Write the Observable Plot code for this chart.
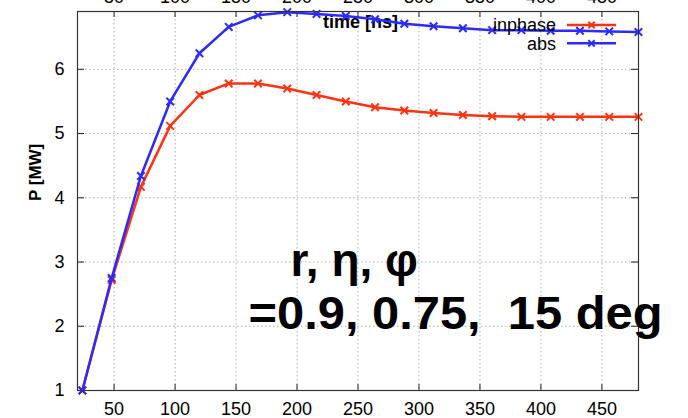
<!DOCTYPE html>
<html>
<head>
<meta charset="utf-8">
<script src="https://cdn.jsdelivr.net/npm/d3@7"></script>
<script src="https://cdn.jsdelivr.net/npm/@observablehq/plot@0.6"></script>
<style>
  html, body { margin: 0; padding: 0; background: #fff; }
  #chart { position: relative; width: 688px; height: 418px; overflow: hidden; }
</style>
</head>
<body>
<div id="chart"></div>
<script>
const time = [24, 48, 72, 96, 120, 144, 168, 192, 216, 240, 264, 288, 312, 336, 360, 384, 408, 432, 456, 480];
const inphase = [1.0, 2.72, 4.17, 5.12, 5.60, 5.78, 5.78, 5.70, 5.60, 5.50, 5.41, 5.36, 5.32, 5.29, 5.27, 5.26, 5.26, 5.26, 5.26, 5.26];
const abs = [1.0, 2.75, 4.34, 5.50, 6.25, 6.66, 6.84, 6.89, 6.86, 6.83, 6.78, 6.71, 6.67, 6.64, 6.61, 6.61, 6.60, 6.60, 6.59, 6.58];
const xTicks = [50, 100, 150, 200, 250, 300, 350, 400, 450];
const yTicks = [1, 2, 3, 4, 5, 6];
const seriesNames = ["inphase", "abs"];
const seriesColors = ["#ff3311", "#2b2bff"];
const annotation1 = "r, η, φ";
const annotation2 = "=0.9, 0.75,  15 deg";
const xLabel = "time [ns]";
const yLabel = "P [MW]";

const redData = time.map((t, i) => ({t, v: inphase[i]}));
const blueData = time.map((t, i) => ({t, v: abs[i]}));

const W = 688, H = 418;
const mL = 77, mR = 50, mT = 11, mB = 28;
const pw = W - mL - mR, ph = H - mT - mB;
const font = "'Liberation Sans', Arial, Helvetica, sans-serif";

const svg = Plot.plot({
  width: W,
  height: H,
  marginLeft: mL, marginRight: mR, marginTop: mT, marginBottom: mB,
  style: {fontFamily: font, fontSize: "18px", color: "#000", background: "#fff"},
  x: {domain: [20, 480], ticks: xTicks},
  y: {domain: [1, 6.9], ticks: yTicks},
  marks: [
    Plot.gridX(xTicks, {stroke: "#999", strokeOpacity: 0.8, strokeDasharray: "1.5,2.5"}),
    Plot.gridY(yTicks, {stroke: "#999", strokeOpacity: 0.8, strokeDasharray: "1.5,2.5"}),
    Plot.axisX({anchor: "bottom", ticks: xTicks, tickSize: 0, tickPadding: 12, label: null, fontSize: 18, tickFormat: d => String(d)}),
    Plot.axisX({anchor: "top", ticks: xTicks, tickSize: 0, tickPadding: 9, label: null, fontSize: 18, tickFormat: d => String(d)}),
    Plot.axisY({anchor: "left", ticks: yTicks, tickSize: 0, tickPadding: 13, label: null, fontSize: 18, tickFormat: d => String(d)}),
    Plot.tickX(xTicks, {x: d => d, insetTop: ph - 6, stroke: "#222"}),
    Plot.tickX(xTicks, {x: d => d, insetBottom: ph - 6, stroke: "#222"}),
    Plot.tickY(yTicks, {y: d => d, insetRight: pw - 7, stroke: "#222"}),
    Plot.tickY(yTicks, {y: d => d, insetLeft: pw - 7, stroke: "#222"}),
    Plot.text([yLabel], {text: d => d, frameAnchor: "left", dx: -42, rotate: -90, fontWeight: "bold", fontSize: 17, fill: "#000"}),
    Plot.text([xLabel], {text: d => d, frameAnchor: "top-left", dx: 283, dy: 11, textAnchor: "middle", lineAnchor: "middle", fontWeight: "bold", fontSize: 18, fill: "#000"}),
    Plot.line(redData, {x: "t", y: "v", stroke: seriesColors[0], strokeWidth: 2.5}),
    Plot.dot(redData, {x: "t", y: "v", symbol: "times", r: 3.5, stroke: seriesColors[0], strokeWidth: 2}),
    Plot.line(blueData, {x: "t", y: "v", stroke: seriesColors[1], strokeWidth: 2.5}),
    Plot.dot(blueData, {x: "t", y: "v", symbol: "times", r: 3.5, stroke: seriesColors[1], strokeWidth: 2}),
    Plot.frame({stroke: "#333", strokeWidth: 1.2}),
    Plot.text([annotation1], {text: d => d, frameAnchor: "top-left", dx: 213, dy: 264, textAnchor: "start", lineAnchor: "bottom", fontWeight: "bold", fontSize: 46, fill: "#000"}),
    Plot.text([annotation2], {text: d => d, frameAnchor: "top-left", dx: 171, dy: 317, textAnchor: "start", lineAnchor: "bottom", fontWeight: "bold", fontSize: 46, fill: "#000"})
  ]
});
document.getElementById("chart").appendChild(svg);

d3.select(svg).selectAll("text").each(function() {
  if (this.textContent === annotation2) {
    d3.select(this).attr("textLength", 414).attr("lengthAdjust", "spacingAndGlyphs");
  }
  if (this.textContent === yLabel) {
    d3.select(this).style("font-size", "17px").style("font-weight", "bold");
  }
});

// Legend (inside the plot, top-right)
const g = d3.select(svg).append("g").attr("font-family", font).attr("font-size", 18);
seriesNames.forEach((name, i) => {
  const y = 25 + i * 18.3;
  g.append("text").attr("x", 556).attr("y", y).attr("dy", "0.35em").attr("text-anchor", "end").attr("fill", "#000").text(name);
  g.append("line").attr("x1", 567).attr("x2", 616).attr("y1", y).attr("y2", y).attr("stroke", seriesColors[i]).attr("stroke-width", 2.5);
  g.append("path").attr("d", d3.symbol(d3.symbolTimes, 28)()).attr("transform", `translate(591.5,${y})`).attr("fill", "none").attr("stroke", seriesColors[i]).attr("stroke-width", 2);
});
</script>
</body>
</html>
